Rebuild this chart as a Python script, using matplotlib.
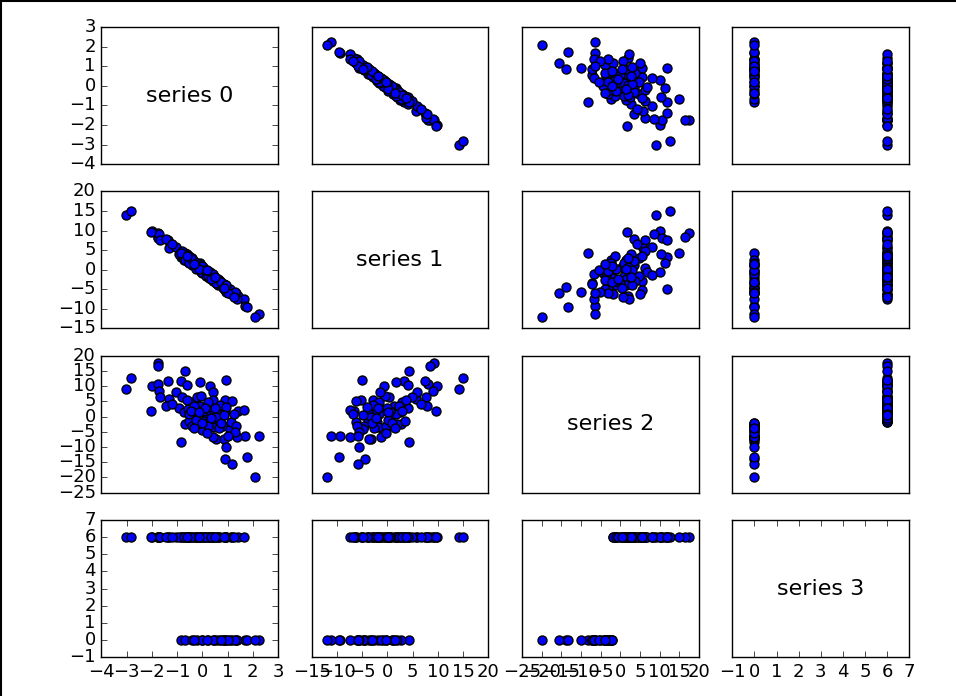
import numpy as np
import matplotlib
matplotlib.use("Agg")
import matplotlib.pyplot as plt
from matplotlib.lines import Line2D

plt.style.use('classic')
plt.rcParams['xtick.labelsize'] = 13
plt.rcParams['ytick.labelsize'] = 13

# values, one entry per point
series0 = [-3.02, -2.84, -1.77, -1.77, -0.69, -2.01, -1.77, -1.37, -1.72, -1.66,
           -1.31, -1.45, -2.04, -1.04, -0.83, -0.59, -0.80, -0.94, -0.72, -0.85,
           -0.42, -0.56, -0.22, -0.10, -0.06, -0.10, -0.26, -0.67, -0.53, -0.40,
           0.00, 0.30, 0.41, 0.44, 0.34, 0.14, 0.07, 0.27, 0.48, 0.61,
           0.61, 0.54, 0.92, 0.91, 1.17, 0.88, 0.81, 0.84, 0.92, 0.88,
           1.16, 1.08, 1.15, 1.35, 1.42, 1.65, 1.69, 1.38, 1.75, 2.26,
           2.10, -0.20, 0.21, 0.65, -1.20, -0.51, -0.33, 0.03, 0.21, 0.68,
           -0.26, 1.28, 1.01, 0.41, 0.00, -0.45, 0.10, 0.55, 0.75, -0.15,
           0.35, 0.95, -0.60, 0.20, 0.50, -0.35, 1.25, 0.85]
series1 = [14.1, 15.0, 9.3, 8.4, 4.2, 9.9, 8.0, 7.5, 9.1, 7.6,
           5.6, 7.9, 9.6, 5.9, 3.3, 4.0, 4.8, 4.1, 2.5, 4.3,
           2.9, 1.9, 0.4, 1.6, -0.5, 1.2, 0.7, 2.6, 3.5, 1.1,
           -0.8, -0.6, -1.4, -2.9, -1.0, -1.6, 0.3, -2.1, -1.8, -2.4,
           -3.9, -3.3, -5.0, -5.2, -6.3, -3.9, -4.6, -3.7, -5.7, -4.4,
           -5.9, -4.9, -6.2, -6.0, -6.6, -7.4, -9.3, -7.5, -9.5, -11.2,
           -12.0, 1.8, -0.3, -2.6, 6.6, 1.6, 2.3, 0.6, -1.7, -2.9,
           0.2, -5.7, -5.9, -1.2, 0.9, 2.9, -0.1, -3.3, -3.1, 0.2,
           -2.3, -4.0, 3.6, -0.2, -1.9, 1.4, -6.9, -4.8]
series2 = [9.1, 12.7, 17.5, 16.5, 14.9, 10.0, 10.7, 11.8, 8.5, 6.3,
           5.8, 3.6, 1.75, 8.2, 11.8, 10.4, 6.3, 2.7, 1.4, -8.2,
           4.7, 2.5, 6.3, 11.5, 6.9, 3.6, 0.5, -2.4, -1.3, -3.2,
           -4.3, 10.2, 8.2, 5.6, 2.0, 0.9, -1.3, -1.9, -3.5, 1.4,
           -1.0, -7.3, 12.0, 5.6, 5.0, 1.4, -3.0, -7.3, -10.1, -13.9,
           -15.5, -4.0, -1.9, -3.0, 2.0, 2.3, -6.5, -6.8, -13.3, -6.5,
           -19.9, -2.4, -3.2, -3.8, 4.2, 0.9, 3.4, 2.0, 4.7, 3.8,
           -1.0, -5.1, -6.5, -6.8, -2.1, 2.0, 3.0, 0.0, -2.2, 1.5,
           -0.5, 3.1, 5.5, -5.5, 2.8, -3.8, 0.8, 0.5]
series3 = [6, 6, 6, 6, 6, 6, 6, 6, 6, 6,
           6, 6, 6, 6, 6, 6, 6, 6, 6, 0,
           6, 6, 6, 6, 6, 6, 6, 0, 6, 0,
           0, 6, 6, 6, 6, 6, 6, 6, 0, 6,
           6, 0, 6, 6, 6, 6, 0, 0, 0, 0,
           0, 0, 6, 0, 6, 6, 0, 0, 0, 0,
           0, 0, 0, 0, 6, 6, 6, 6, 6, 6,
           6, 0, 0, 0, 0, 6, 6, 6, 0, 6,
           6, 6, 6, 0, 6, 0, 6, 6]

columns = [series0, series1, series2, series3]
limits = [(-4, 3), (-15, 20), (-25, 20), (-1, 7)]
n = len(columns)

fig, ax = plt.subplots(n, n, figsize=(9.56, 6.96), dpi=100)
fig.patch.set_facecolor('white')
fig.subplots_adjust(left=0.106, right=0.951, top=0.961, bottom=0.056,
                    wspace=0.19, hspace=0.2)

for i in range(n):
    for j in range(n):
        if i != j:
            ax[i][j].scatter(columns[j], columns[i], s=42, c='b',
                             edgecolors='k', linewidths=1)
        else:
            # diagonal just shows the series name
            ax[i][j].annotate("series " + str(i), (0.5, 0.5),
                              xycoords='axes fraction', ha="center",
                              va="center", fontsize=16)
        # only left column and bottom row keep their axis labels
        if i < n - 1:
            ax[i][j].xaxis.set_visible(False)
        if j > 0:
            ax[i][j].yaxis.set_visible(False)
        ax[i][j].set_xlim(limits[j])
        ax[i][j].set_ylim(limits[i])

# thin frame on the left and top edges of the picture
fig.lines.append(Line2D([0.001, 0.001], [0, 1], transform=fig.transFigure,
                        color='k', linewidth=1.5))
fig.lines.append(Line2D([0, 1], [0.999, 0.999], transform=fig.transFigure,
                        color='k', linewidth=1.5))

fig.savefig("out.png", dpi=100, facecolor='white')
